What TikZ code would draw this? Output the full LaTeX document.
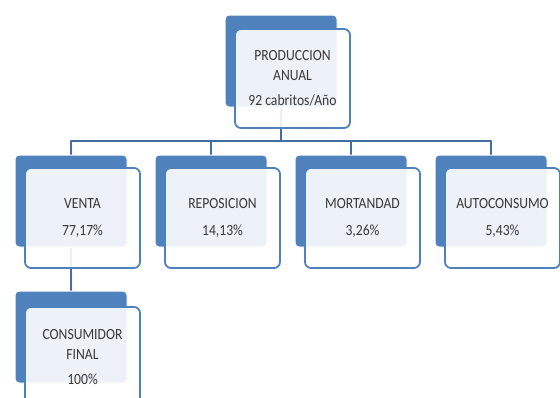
\documentclass[tikz,border=0pt]{standalone}
\usepackage{fontspec}
\setmainfont{Carlito}[FakeStretch=0.88]
\usepackage{xcolor}
\definecolor{boxblue}{HTML}{4F81BD}
\definecolor{txtgray}{HTML}{383838}
\begin{document}
\begin{tikzpicture}[line cap=round,line join=round,x=1pt,y=-1pt,
    back/.style={rectangle,rounded corners=4pt,fill=boxblue,draw=white,line width=1pt,minimum width=112pt,minimum height=92pt},
    front/.style={rectangle,rounded corners=6pt,fill=white,fill opacity=0.9,text opacity=1,draw=boxblue,line width=1.8pt,minimum width=115pt,minimum height=100pt,text=txtgray,align=center,font=\fontsize{15.5}{20}\selectfont},
    conn/.style={draw=boxblue!85!black,line width=1.8pt}]
                \useasboundingbox (0,0) rectangle (560,397);
                \coordinate (bus) at (0,141);
                \node [back] (prodbk) at (281,61) {};
                \node [back] (ventabk) at (71,201) {};
                \node [back] (reposbk) at (211,201) {};
                \node [back] (mortbk) at (351,201) {};
                \node [back] (autobk) at (491,201) {};
                \node [back] (consbk) at (71,337) {};
                \draw [conn] (prodbk.center) -- (prodbk |- bus);
                \draw [conn] (ventabk |- bus) -- (autobk |- bus);
                \draw [conn] (ventabk |- bus) -- (ventabk.center);
                \draw [conn] (reposbk |- bus) -- (reposbk.center);
                \draw [conn] (mortbk |- bus) -- (mortbk.center);
                \draw [conn] (autobk |- bus) -- (autobk.center);
                \draw [conn] (ventabk.center) -- (consbk.center);
                \node [back] at (prodbk) {};
                \node [back] at (ventabk) {};
                \node [back] at (reposbk) {};
                \node [back] at (mortbk) {};
                \node [back] at (autobk) {};
                \node [back] at (consbk) {};
                \node [front,minimum height=99pt] (prod) at (292.5,78.5) {PRODUCCION\\ANUAL\\[5pt]92 cabritos/Año};
                \node [front] (venta) at (82.5,218) {VENTA\\[7pt]77,17\%};
                \node [front] (repos) at (222.5,218) {REPOSICION\\[7pt]14,13\%};
                \node [front] (mort) at (362.5,218) {MORTANDAD\\[7pt]3,26\%};
                \node [front] (auto) at (502.5,218) {AUTOCONSUMO\\[7pt]5,43\%};
                \node [front] (cons) at (82.5,357) {CONSUMIDOR\\FINAL\\[5pt]100\%};
\end{tikzpicture}
\end{document}
